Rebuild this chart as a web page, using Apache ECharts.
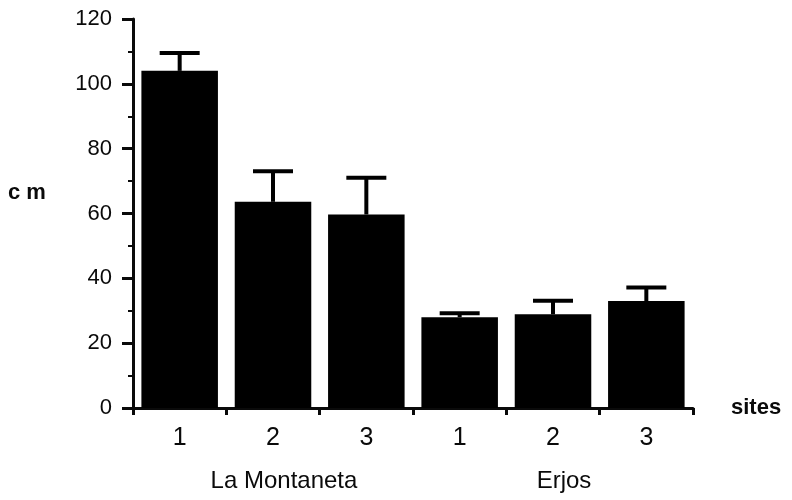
<!DOCTYPE html>
<html>
<head>
<meta charset="utf-8">
<script src="https://cdn.jsdelivr.net/npm/echarts@6/dist/echarts.min.js"></script>
<style>
  html, body { margin: 0; padding: 0; background: #fff; }
  #chart { width: 792px; height: 500px; }
</style>
</head>
<body>
<div id="chart"></div>
<script>
// Site numbers along the x axis (three per locality)
const siteLabels = ['1', '2', '3', '1', '2', '3'];
// Locality names written under each group of three sites
const groupNames = ['La Montaneta', 'Erjos'];
// Mean height (cm) per site
const meanHeight = [104.0, 63.6, 59.7, 28.0, 28.9, 33.0];
// Upper end of the error bar (mean + error) per site
const upperHeight = [109.5, 73.0, 71.0, 29.2, 33.1, 37.2];
// Y axis range and step
const yMin = 0, yMax = 120, yStep = 20;

const ink = '#0a0a0a';
const chart = echarts.init(document.getElementById('chart'), null, { renderer: 'canvas' });

const errorData = meanHeight.map((m, i) => [i, m, upperHeight[i]]);

chart.setOption({
  backgroundColor: '#ffffff',
  animation: false,
  grid: { left: 133, right: 99, top: 19, bottom: 92, containLabel: false },
  xAxis: {
    type: 'category',
    data: siteLabels,
    name: 'sites',
    nameLocation: 'end',
    nameGap: 38,
    nameTextStyle: { color: ink, fontFamily: 'Liberation Sans', fontSize: 22, fontWeight: 'bold', verticalAlign: 'middle' },
    axisLine: { show: true, lineStyle: { color: ink, width: 3 } },
    axisTick: { show: true, interval: 0, alignWithLabel: false, length: 7, lineStyle: { color: ink, width: 3 } },
    axisLabel: { color: ink, fontFamily: 'Liberation Sans', fontSize: 25, margin: 18, interval: 0 },
    splitLine: { show: false }
  },
  yAxis: {
    type: 'value',
    min: yMin, max: yMax, interval: yStep,
    axisLine: { show: true, lineStyle: { color: ink, width: 3 } },
    axisTick: { show: true, length: 11, lineStyle: { color: ink, width: 3 } },
    minorTick: { show: true, splitNumber: 2, length: 5, lineStyle: { color: ink, width: 2 } },
    axisLabel: { color: ink, fontFamily: 'Liberation Sans', fontSize: 22, margin: 21 },
    splitLine: { show: false }
  },
  graphic: [
    { type: 'text', x: 8, y: 193, style: { text: 'c m', fill: ink, font: 'bold 22px "Liberation Sans"', textVerticalAlign: 'middle', textAlign: 'left' } },
    { type: 'text', x: 284, y: 481, style: { text: groupNames[0], fill: ink, font: '24px "Liberation Sans"', textVerticalAlign: 'middle', textAlign: 'center' } },
    { type: 'text', x: 564, y: 481, style: { text: groupNames[1], fill: ink, font: '24px "Liberation Sans"', textVerticalAlign: 'middle', textAlign: 'center' } }
  ],
  series: [
    {
      type: 'bar',
      data: meanHeight,
      barWidth: '82%',
      itemStyle: { color: '#000' },
      z: 3
    },
    {
      type: 'custom',
      data: errorData,
      z: 2,
      renderItem: function (params, api) {
        const idx = api.value(0);
        const base = api.coord([idx, api.value(1)]);
        const top = api.coord([idx, api.value(2)]);
        const half = 20;
        const st = { stroke: '#000', lineWidth: 4 };
        return {
          type: 'group',
          children: [
            { type: 'line', shape: { x1: base[0], y1: base[1], x2: top[0], y2: top[1] }, style: st },
            { type: 'line', shape: { x1: top[0] - half, y1: top[1], x2: top[0] + half, y2: top[1] }, style: st }
          ]
        };
      }
    }
  ]
});
</script>
</body>
</html>
